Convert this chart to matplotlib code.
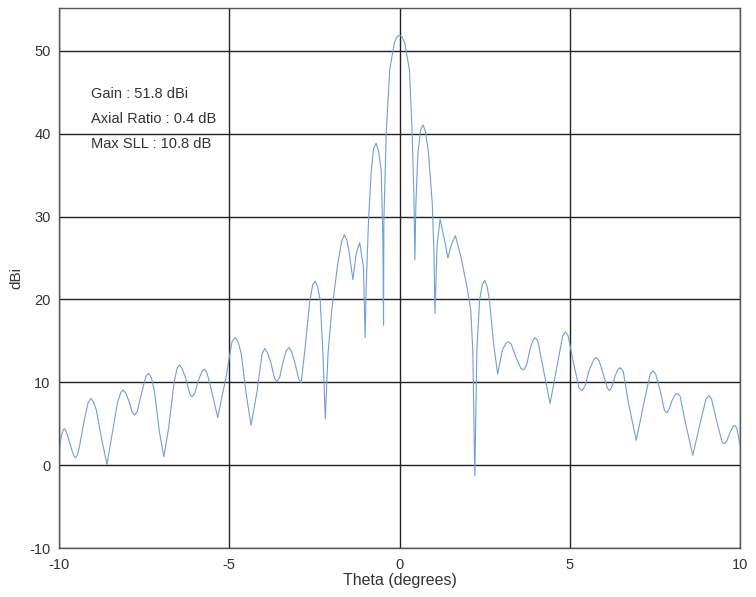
import matplotlib
matplotlib.use("Agg")
import matplotlib.pyplot as plt

plt.rcParams['font.family'] = ['Liberation Sans', 'DejaVu Sans']
plt.rcParams['axes.unicode_minus'] = False

theta = [-10.00, -9.93, -9.88, -9.84, -9.80, -9.75, -9.62, -9.55, -9.51, -9.46, -9.40,
         -9.25, -9.14, -9.06, -8.98, -8.90, -8.75, -8.59, -8.45, -8.28, -8.18, -8.11,
         -8.04, -7.95, -7.85, -7.78, -7.70, -7.58, -7.45, -7.37, -7.29, -7.20, -7.05,
         -6.92, -6.78, -6.62, -6.53, -6.46, -6.39, -6.28, -6.16, -6.09, -6.01, -5.91,
         -5.80, -5.73, -5.66, -5.55, -5.34, -5.10, -4.92, -4.83, -4.74, -4.65, -4.50,
         -4.36, -4.18, -4.04, -3.96, -3.88, -3.78, -3.67, -3.60, -3.52, -3.43, -3.33,
         -3.25, -3.17, -3.07, -2.96, -2.89, -2.79, -2.64, -2.55, -2.48, -2.41, -2.33,
         -2.25, -2.18, -2.10, -1.99, -1.81, -1.70, -1.62, -1.55, -1.49, -1.37, -1.27,
         -1.17, -1.06, -1.01, -0.98, -0.91, -0.83, -0.76, -0.69, -0.62, -0.54, -0.49,
         -0.47, -0.46, -0.39, -0.29, -0.15, -0.07, 0.00, 0.07, 0.15, 0.29, 0.37,
         0.42, 0.45, 0.48, 0.54, 0.62, 0.69, 0.76, 0.85, 0.96, 1.01, 1.04,
         1.10, 1.19, 1.32, 1.42, 1.52, 1.64, 1.81, 1.98, 2.09, 2.15, 2.21,
         2.27, 2.35, 2.43, 2.50, 2.57, 2.64, 2.76, 2.88, 3.02, 3.12, 3.20,
         3.28, 3.42, 3.56, 3.65, 3.74, 3.82, 3.91, 3.98, 4.06, 4.18, 4.42,
         4.65, 4.79, 4.87, 4.95, 5.10, 5.27, 5.36, 5.45, 5.57, 5.70, 5.78,
         5.86, 5.98, 6.10, 6.17, 6.25, 6.33, 6.42, 6.49, 6.57, 6.72, 6.95,
         7.20, 7.36, 7.44, 7.52, 7.65, 7.78, 7.85, 7.92, 8.00, 8.09, 8.16,
         8.24, 8.40, 8.61, 8.85, 9.00, 9.08, 9.16, 9.30, 9.47, 9.54, 9.61,
         9.70, 9.78, 9.84, 9.90, 10.00]

gain_dbi = [1.5, 3.5, 4.2, 4.4, 4.2, 3.6, 1.8, 1.0, 0.9, 1.2, 2.2,
            5.6, 7.6, 8.05, 7.6, 6.6, 3.2, 0.1, 3.5, 7.6, 8.8, 9.06,
            8.7, 7.8, 6.4, 6.04, 6.5, 8.6, 10.7, 11.07, 10.6, 9.0, 4.0,
            1.0, 4.5, 10.0, 11.7, 12.08, 11.7, 10.5, 8.6, 8.25, 8.7, 10.2,
            11.3, 11.6, 11.2, 9.5, 5.76, 10.5, 14.9, 15.4, 14.9, 13.5, 8.5,
            4.83, 9.0, 13.4, 14.1, 13.6, 12.4, 10.5, 10.06, 10.6, 12.3, 13.8,
            14.2, 13.7, 12.3, 10.4, 9.94, 13.5, 19.6, 21.8, 22.2, 21.6, 19.9,
            13.5, 5.6, 13.5, 18.7, 24.4, 27.0, 27.8, 27.2, 26.0, 22.4, 25.6,
            26.85, 23.9, 15.4, 21.5, 29.6, 35.6, 38.2, 38.85, 38.0, 35.6, 27.6,
            16.9, 29.6, 40.1, 47.7, 51.0, 51.7, 51.9, 51.7, 51.0, 47.7, 40.1,
            32.8, 24.8, 31.6, 37.7, 40.5, 41.06, 40.3, 37.7, 31.6, 25.6, 18.3,
            26.4, 29.7, 27.2, 25.0, 26.6, 27.7, 25.0, 21.5, 18.7, 13.9, -1.3,
            13.9, 19.9, 21.8, 22.3, 21.6, 19.9, 14.7, 11.0, 13.9, 14.7, 14.9,
            14.6, 13.0, 11.7, 11.5, 12.2, 13.8, 15.0, 15.4, 15.0, 12.5, 7.45,
            12.5, 15.6, 16.1, 15.6, 12.5, 9.3, 8.98, 9.6, 11.5, 12.7, 13.0,
            12.6, 11.0, 9.3, 9.0, 9.6, 10.8, 11.6, 11.75, 11.3, 7.5, 3.0,
            8.0, 11.0, 11.4, 11.0, 9.0, 6.6, 6.3, 6.8, 7.8, 8.5, 8.65,
            8.3, 5.0, 1.2, 5.5, 8.0, 8.4, 8.0, 5.5, 2.8, 2.6, 2.9,
            3.9, 4.6, 4.8, 4.5, 2.4]

x_ticks = [-10, -5, 0, 5, 10]
y_ticks = [-10, 0, 10, 20, 30, 40, 50]
annotations = ["Gain : 51.8 dBi", "Axial Ratio : 0.4 dB", "Max SLL : 10.8 dB"]

fig = plt.figure(figsize=(7.56, 5.97), dpi=100)
ax = fig.add_axes([0.078, 0.082, 0.901, 0.905])

ax.plot(theta, gain_dbi, color='#6f9fd8', linewidth=0.8)

ax.set_xlim(-10, 10)
ax.set_ylim(-10, 55.2)
ax.set_xticks(x_ticks)
ax.set_yticks(y_ticks)
ax.grid(True, color='#222222', linewidth=1.0)
ax.set_axisbelow(True)
for s in ax.spines.values():
    s.set_color('#555555')
    s.set_linewidth(1.0)
ax.tick_params(length=0, labelsize=10.5, colors='#333333')
ax.tick_params(axis='x', pad=7)
ax.tick_params(axis='y', pad=6)

ax.set_xlabel("Theta (degrees)", fontsize=11.5, color='#333333', labelpad=1)
ax.set_ylabel("dBi", fontsize=11, color='#333333', labelpad=4)

for i, t in enumerate(annotations):
    ax.text(-9.05, 44.8 - 3.0 * i, t, fontsize=10.5, color='#333333',
            va='center', ha='left')

fig.savefig("out.png", dpi=100)
